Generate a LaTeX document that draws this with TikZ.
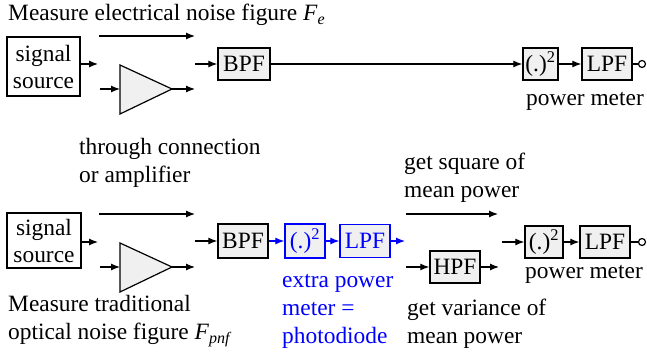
\documentclass[tikz,border=0pt]{standalone}
\usepackage{fontspec}
\setmainfont{Liberation Serif}
\usetikzlibrary{arrows.meta}
\definecolor{boxgray}{RGB}{240,240,240}
\definecolor{pblue}{RGB}{0,0,255}
\newcommand\fs{\fontsize{23.4}{28}\selectfont}
\newcommand\subit[1]{\raisebox{-0.35ex}{\fontsize{16}{16}\selectfont\itshape #1}}
\begin{document}
\begin{tikzpicture}[x=1pt,y=-1pt,
  box/.style={draw, line width=1.4pt, fill=boxgray, minimum height=32pt, inner sep=0pt, font=\fs},
  srcbox/.style={draw, line width=1.4pt, fill=white, inner sep=0pt, align=center, font=\fontsize{23.4}{27}\selectfont},
  arr/.style={-{Latex[length=9pt,width=7pt]}, line width=1.2pt},
  ln/.style={line width=1.2pt},
  lbl/.style={anchor=west, inner sep=0pt, align=left, font=\fs},
  term/.style={draw, circle, line width=1.2pt, fill=white, minimum size=7pt, inner sep=0pt},
  amp/.style={draw, line width=1.2pt, fill=boxgray}
]
\useasboundingbox (0,0) rectangle (647,358);

% ---------- top: electrical noise figure ----------
\node[lbl] (title1) at (8,15) {Measure electrical noise figure \textit{F}\subit{e}};
\node[srcbox, minimum width=73pt, minimum height=59pt] (src1) at (43.5,66.5) {signal\\source};
\coordinate (s1e) at (98,64);
\draw[arr] (src1.east |- s1e) -- (s1e);
\coordinate (t1s) at (99,36); \coordinate (t1e) at (195,36);
\draw[arr] (t1s) -- (t1e);
\coordinate (a1i) at (120,89); \coordinate (a1o) at (172,89);
\draw[amp] (120,65) -- (a1o) -- (120,114) -- cycle;
\coordinate (a1s) at (100,89); \coordinate (a1e) at (195,89);
\draw[arr] (a1s) -- (a1i);
\draw[arr] (a1o) -- (a1e);
\node[box, minimum width=52pt] (bpf1) at (244,64) {BPF};
\coordinate (b1s) at (195,64);
\draw[arr] (b1s) -- (bpf1.west);
\node[box, minimum width=35pt] (sq1) at (540.5,64) {(.)\textsuperscript{2}};
\node[box, minimum width=50pt] (lpf1) at (607,64) {LPF};
\node[term] (o1) at (642,64) {};
\draw[arr] (bpf1.east) -- (sq1.west);
\draw[arr] (sq1.east) -- (lpf1.west);
\draw[ln] (lpf1.east) -- (o1.west);
\node[lbl, anchor=center] (pm1) at (585,101) {power meter};

% ---------- bottom: traditional optical noise figure ----------
\node[lbl] (thru) at (79,162.5) {through connection\\or amplifier};
\node[srcbox, minimum width=74pt, minimum height=55pt] (src2) at (44,240.5) {signal\\source};
\coordinate (s2e) at (98,242);
\draw[arr] (src2.east |- s2e) -- (s2e);
\coordinate (t2s) at (99,214); \coordinate (t2e) at (195,214);
\draw[arr] (t2s) -- (t2e);
\coordinate (a2i) at (120,267); \coordinate (a2o) at (172,267);
\draw[amp] (120,243) -- (a2o) -- (120,292) -- cycle;
\coordinate (a2s) at (100,267); \coordinate (a2e) at (195,267);
\draw[arr] (a2s) -- (a2i);
\draw[arr] (a2o) -- (a2e);
\node[box, minimum width=50pt, minimum height=34pt] (bpf2) at (243,241) {BPF};
\coordinate (b2s) at (195,241);
\draw[arr] (b2s) -- (bpf2.west);
\node[box, draw=pblue, text=pblue, minimum width=40pt, minimum height=34pt] (sq2) at (305,241) {(.)\textsuperscript{2}};
\node[box, draw=pblue, text=pblue, minimum width=50pt, minimum height=33pt] (lpf2) at (365,241) {LPF};
\coordinate (l2e) at (405,241);
\draw[arr, pblue] (bpf2.east) -- (sq2.west);
\draw[arr, pblue] (sq2.east) -- (lpf2.west);
\draw[arr, pblue] (lpf2.east) -- (l2e);
\node[lbl, text=pblue] (extra) at (282,311) {extra power\\meter =\\photodiode};

\node[lbl] (gsq) at (404,177.5) {get square of\\mean power};
\coordinate (g1s) at (406,214); \coordinate (g1e) at (498,214);
\draw[arr] (g1s) -- (g1e);
\node[box, minimum width=50pt] (hpf) at (455,267) {HPF};
\coordinate (h1s) at (406,267); \coordinate (h1e) at (499,267);
\draw[arr] (h1s) -- (hpf.west);
\draw[arr] (hpf.east) -- (h1e);
\node[box, minimum width=38pt] (sq3) at (544,242) {(.)\textsuperscript{2}};
\node[box, minimum width=50pt] (lpf3) at (605,242) {LPF};
\node[term] (o2) at (642,242) {};
\coordinate (q3s) at (502,242);
\draw[arr] (q3s) -- (sq3.west);
\draw[arr] (sq3.east) -- (lpf3.west);
\draw[ln] (lpf3.east) -- (o2.west);
\node[lbl] (pm2) at (525,274) {power meter};
\node[lbl] (gvar) at (407,324) {get variance of\\mean power};
\node[lbl] (title2) at (8,321) {Measure traditional\\optical noise figure \textit{F}\subit{pnf}};
\end{tikzpicture}
\end{document}
